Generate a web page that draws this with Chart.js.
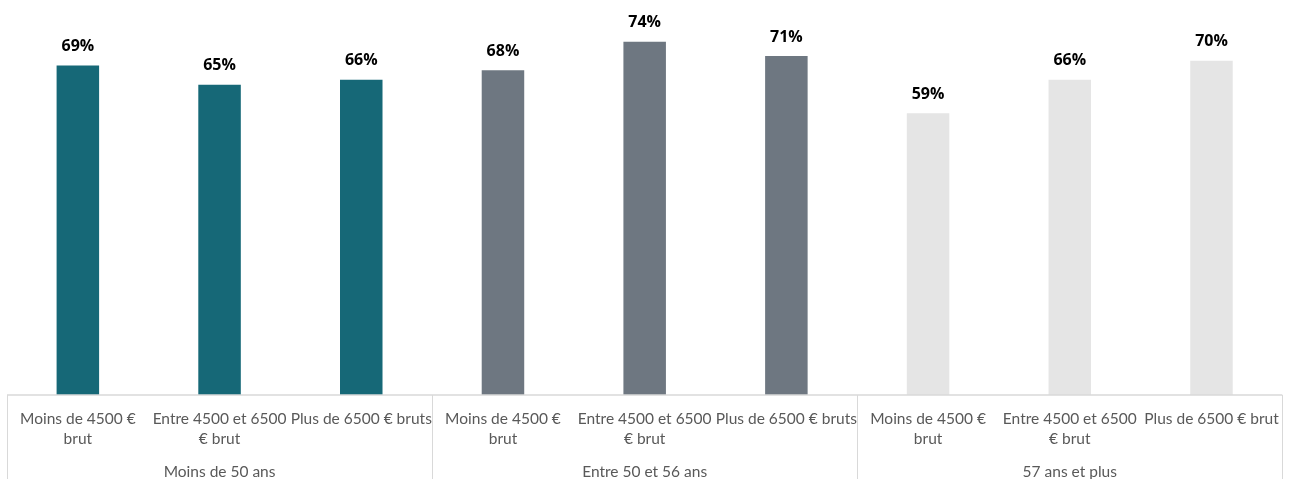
<!DOCTYPE html>
<html>
<head>
<meta charset="utf-8">
<script src="https://cdn.jsdelivr.net/npm/chart.js@4/dist/chart.umd.min.js"></script>
<style>
  html, body { margin: 0; padding: 0; background: #ffffff; }
  #wrap { width: 1293px; height: 479px; position: relative; }
</style>
</head>
<body>
<div id="wrap"><canvas id="c"></canvas></div>
<script>
// Salary bands (two-line labels where the text wraps)
const categories = [
  ["Moins de 4500 €", "brut"], ["Entre 4500 et 6500", "€ brut"], "Plus de 6500 € bruts",
  ["Moins de 4500 €", "brut"], ["Entre 4500 et 6500", "€ brut"], "Plus de 6500 € bruts",
  ["Moins de 4500 €", "brut"], ["Entre 4500 et 6500", "€ brut"], "Plus de 6500 € brut"
];
// Age groups, three salary bands each
const groups = ["Moins de 50 ans", "Entre 50 et 56 ans", "57 ans et plus"];
const groupSize = 3;
// Share in percent
const values = [69, 65, 66, 68, 74, 71, 59, 66, 70];
const groupColors = ["#166877", "#6e7781", "#e5e5e5"];

const barColors = values.map((v, i) => groupColors[Math.floor(i / groupSize)]);

const LINE = "#d9d9d9";

const groupFrame = {
  id: "groupFrame",
  afterDraw(chart) {
    const { ctx, chartArea, scales } = chart;
    const x = scales.x;
    const half = (x.getPixelForValue(1) - x.getPixelForValue(0)) / 2;
    const bottom = chart.height;
    ctx.save();
    ctx.strokeStyle = LINE;
    ctx.lineWidth = 1.5;
    // baseline
    ctx.beginPath();
    ctx.moveTo(x.getPixelForValue(0) - half, chartArea.bottom);
    ctx.lineTo(x.getPixelForValue(categories.length - 1) + half, chartArea.bottom);
    ctx.stroke();
    // separators between groups
    ctx.lineWidth = 1;
    for (let g = 0; g <= groups.length; g++) {
      const idx = g * groupSize;
      const px = Math.round(x.getPixelForValue(idx) - half) + 0.5;
      ctx.beginPath();
      ctx.moveTo(px, chartArea.bottom);
      ctx.lineTo(px, bottom);
      ctx.stroke();
    }
    // group labels
    ctx.fillStyle = "#595959";
    ctx.font = "15.5px Lato, 'Liberation Sans', sans-serif";
    ctx.textAlign = "center";
    ctx.textBaseline = "middle";
    groups.forEach((name, g) => {
      const mid = (x.getPixelForValue(g * groupSize) + x.getPixelForValue(g * groupSize + groupSize - 1)) / 2;
      ctx.fillText(name, mid, chartArea.bottom + 77);
    });
    ctx.restore();
  }
};

const valueLabels = {
  id: "valueLabels",
  afterDatasetsDraw(chart) {
    const { ctx } = chart;
    const meta = chart.getDatasetMeta(0);
    ctx.save();
    ctx.fillStyle = "#000000";
    ctx.font = "bold 16px 'Open Sans', sans-serif";
    ctx.textAlign = "center";
    ctx.textBaseline = "bottom";
    meta.data.forEach((bar, i) => {
      ctx.fillText(values[i] + "%", bar.x, bar.y - 11);
    });
    ctx.restore();
  }
};

new Chart(document.getElementById("c"), {
  type: "bar",
  data: {
    labels: categories,
    datasets: [{
      data: values,
      backgroundColor: barColors,
      barPercentage: 1,
      categoryPercentage: 0.3
    }]
  },
  options: {
    responsive: true,
    maintainAspectRatio: false,
    animation: false,
    layout: { padding: { left: 7, right: 5, top: 13, bottom: 16 } },
    plugins: { legend: { display: false }, tooltip: { enabled: false } },
    scales: {
      x: {
        grid: { display: false, drawTicks: false },
        border: { display: false },
        ticks: {
          color: "#595959",
          font: { family: "Lato, 'Liberation Sans', sans-serif", size: 15.5, lineHeight: 1.29 },
          padding: 14,
          maxRotation: 0,
          autoSkip: false
        }
      },
      y: {
        display: false,
        min: 0,
        max: 80
      }
    }
  },
  plugins: [groupFrame, valueLabels]
});
</script>
</body>
</html>
